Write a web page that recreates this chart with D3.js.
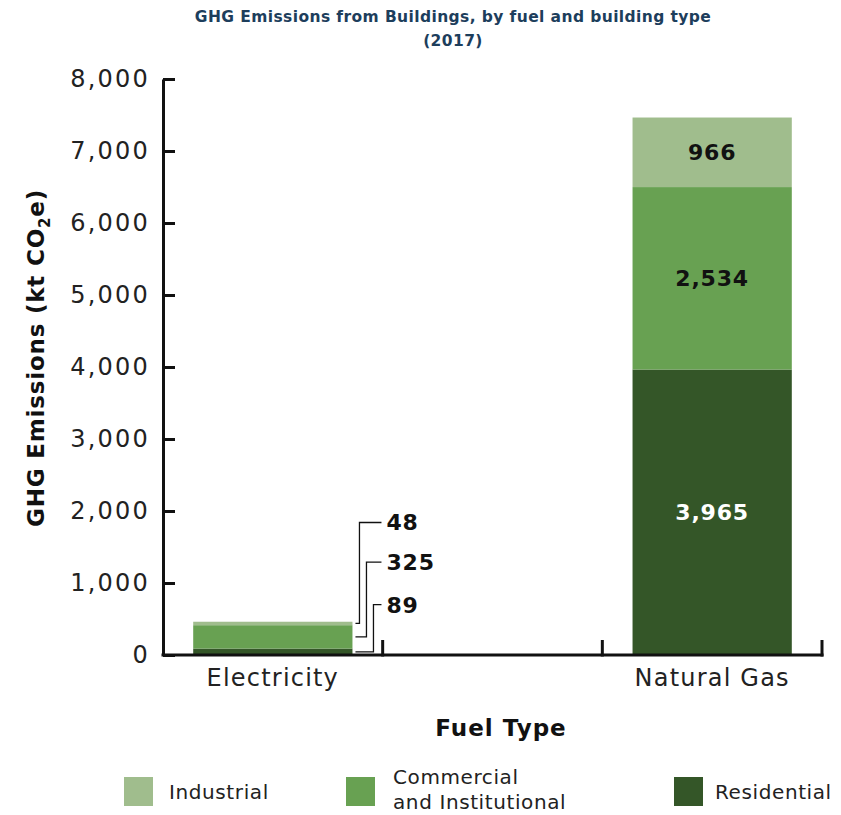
<!DOCTYPE html>
<html>
<head>
<meta charset="utf-8">
<script src="https://cdn.jsdelivr.net/npm/d3@7"></script>
<style>
  body { margin: 0; background: #fff; }
  text { font-family: "DejaVu Sans", sans-serif; }
</style>
</head>
<body>
<div id="chart"></div>
<script>
// data
const fuels = ["Electricity", "", "Natural Gas"];
const buildingTypes = ["Residential", "Commercial and Institutional", "Industrial"];
const residential = [89, null, 3965];
const commercial = [325, null, 2534];
const industrial = [48, null, 966];
const yTicks = [0, 1000, 2000, 3000, 4000, 5000, 6000, 7000, 8000];
// where the electricity callout labels sit (in kt)
const calloutAt = [1840, 1290, 700];

const colors = { "Residential": "#345628", "Commercial and Institutional": "#68a152", "Industrial": "#a0bd8d" };

const W = 841, H = 815;
const margin = { top: 79, right: 19, bottom: 160, left: 163 };
const width = W - margin.left - margin.right;
const height = H - margin.top - margin.bottom;

const svg = d3.select("#chart").append("svg")
  .attr("width", W).attr("height", H);

// title
svg.append("text").attr("x", 453).attr("y", 22).attr("text-anchor", "middle")
  .style("font-size", "15.5px").style("font-weight", "bold").style("letter-spacing", "0.4px")
  .attr("fill", "#1d3e5c")
  .text("GHG Emissions from Buildings, by fuel and building type");
svg.append("text").attr("x", 453).attr("y", 46).attr("text-anchor", "middle")
  .style("font-size", "15.5px").style("font-weight", "bold").style("letter-spacing", "0.4px")
  .attr("fill", "#1d3e5c")
  .text("(2017)");

const g = svg.append("g").attr("transform", `translate(${margin.left},${margin.top})`);

const x = d3.scaleBand().domain(fuels).range([0, width]).padding(0);
const y = d3.scaleLinear().domain([0, 8000]).range([height, 0]);

// stacked data
const rows = fuels.map((f, i) => ({
  fuel: f,
  "Residential": residential[i],
  "Commercial and Institutional": commercial[i],
  "Industrial": industrial[i]
})).filter(d => d.Residential != null);

const stack = d3.stack().keys(buildingTypes);
const series = stack(rows);

const barW = x.bandwidth() * 0.725;

g.append("g").selectAll("g")
  .data(series)
  .enter().append("g")
  .attr("fill", d => colors[d.key])
  .selectAll("rect")
  .data(d => d.map(p => ({ key: d.key, p: p })))
  .enter().append("rect")
  .attr("x", d => x(d.p.data.fuel) + (x.bandwidth() - barW) / 2)
  .attr("y", d => y(d.p[1]))
  .attr("width", barW)
  .attr("height", d => y(d.p[0]) - y(d.p[1]));

// value labels inside the natural gas bar
const ng = series.map(s => ({ key: s.key, p: s.find(p => p.data.fuel === "Natural Gas") }));
g.append("g").selectAll("text")
  .data(ng)
  .enter().append("text")
  .attr("x", d => x("Natural Gas") + x.bandwidth() / 2)
  .attr("y", d => y((d.p[0] + d.p[1]) / 2))
  .attr("dy", "0.36em")
  .attr("text-anchor", "middle")
  .style("font-size", "22px").style("font-weight", "bold").style("letter-spacing", "0.8px")
  .attr("fill", d => d.key === "Residential" ? "#fff" : "#111")
  .text(d => d3.format(",")(d.p[1] - d.p[0]));

// electricity callouts
const el = series.map(s => ({ key: s.key, p: s.find(p => p.data.fuel === "Electricity") }));
const barRight = x("Electricity") + (x.bandwidth() + barW) / 2;
const elbowX = [barRight + 21, barRight + 14, barRight + 7]; // residential, commercial, industrial
const ann = el.map((d, i) => ({ ...d, lblY: y(calloutAt[2 - i]), ex: elbowX[i] }));

const callouts = g.append("g");
callouts.selectAll("path")
  .data(ann)
  .enter().append("path")
  .attr("fill", "none").attr("stroke", "#111").attr("stroke-width", 1.3)
  .attr("d", d => {
    const my = y((d.p[0] + d.p[1]) / 2);
    return `M${barRight + 3},${my}H${d.ex}V${d.lblY}H${barRight + 29}`;
  });
callouts.selectAll("text")
  .data(ann)
  .enter().append("text")
  .attr("x", barRight + 34)
  .attr("y", d => d.lblY)
  .attr("dy", "0.36em")
  .style("font-size", "22px").style("font-weight", "bold").style("letter-spacing", "0.8px")
  .attr("fill", "#111")
  .text(d => d3.format(",")(d.p[1] - d.p[0]));

// y axis
const yAxis = g.append("g")
  .call(d3.axisLeft(y).tickValues(yTicks).tickFormat(d3.format(","))
    .tickSizeInner(-12).tickSizeOuter(0).tickPadding(13));
yAxis.select(".domain").attr("stroke", "#111").attr("stroke-width", 3);
yAxis.selectAll(".tick line").attr("stroke", "#111").attr("stroke-width", 3);
yAxis.selectAll(".tick text").style("font-size", "24px").attr("fill", "#222")
  .style("letter-spacing", "2.2px").attr("font-family", null);

// x axis
const xAxis = g.append("g").attr("transform", `translate(0,${height})`);
xAxis.append("line").attr("x1", -1.5).attr("x2", width + 1.5)
  .attr("stroke", "#111").attr("stroke-width", 3);
xAxis.selectAll(".edge")
  .data(fuels)
  .enter().append("line")
  .attr("x1", d => x(d) + x.bandwidth()).attr("x2", d => x(d) + x.bandwidth())
  .attr("y1", 1.5).attr("y2", -15)
  .attr("stroke", "#111").attr("stroke-width", 3);
xAxis.selectAll(".lbl")
  .data(fuels.filter(f => f))
  .enter().append("text")
  .attr("x", d => x(d) + x.bandwidth() / 2)
  .attr("y", 31)
  .attr("text-anchor", "middle")
  .style("font-size", "24px").attr("fill", "#222").style("letter-spacing", "1.2px")
  .text(d => d);

// axis titles
svg.append("text").attr("x", 501).attr("y", 736).attr("text-anchor", "middle")
  .style("font-size", "23px").style("font-weight", "bold").style("letter-spacing", "1px")
  .attr("fill", "#111")
  .text("Fuel Type");

const yt = svg.append("text")
  .attr("transform", `translate(44,358) rotate(-90)`)
  .attr("text-anchor", "middle")
  .style("font-size", "23px").style("font-weight", "bold").style("letter-spacing", "0.8px")
  .attr("fill", "#111");
yt.append("tspan").text("GHG Emissions (kt CO");
yt.append("tspan").attr("dy", 6).style("font-size", "15px").text("2");
yt.append("tspan").attr("dy", -6).text("e)");

// legend
const legendItems = [
  { key: "Industrial", lines: ["Industrial"], x: 124 },
  { key: "Commercial and Institutional", lines: ["Commercial", "and Institutional"], x: 346 },
  { key: "Residential", lines: ["Residential"], x: 674 }
];
const lg = svg.append("g").selectAll("g")
  .data(legendItems)
  .enter().append("g")
  .attr("transform", d => `translate(${d.x},777)`);
lg.append("rect").attr("width", 29).attr("height", 29).attr("fill", d => colors[d.key]);
lg.append("text")
  .attr("x", d => d.key === "Residential" ? 41 : (d.key === "Industrial" ? 45 : 47))
  .attr("y", d => d.lines.length === 1 ? 15 : 0)
  .style("font-size", "20px").style("letter-spacing", "0.6px").attr("fill", "#222")
  .selectAll("tspan")
  .data(d => d.lines)
  .enter().append("tspan")
  .attr("x", function () { return d3.select(this.parentNode).attr("x"); })
  .attr("dy", (d, i) => i === 0 ? "0.36em" : "1.25em")
  .text(d => d);
</script>
</body>
</html>
